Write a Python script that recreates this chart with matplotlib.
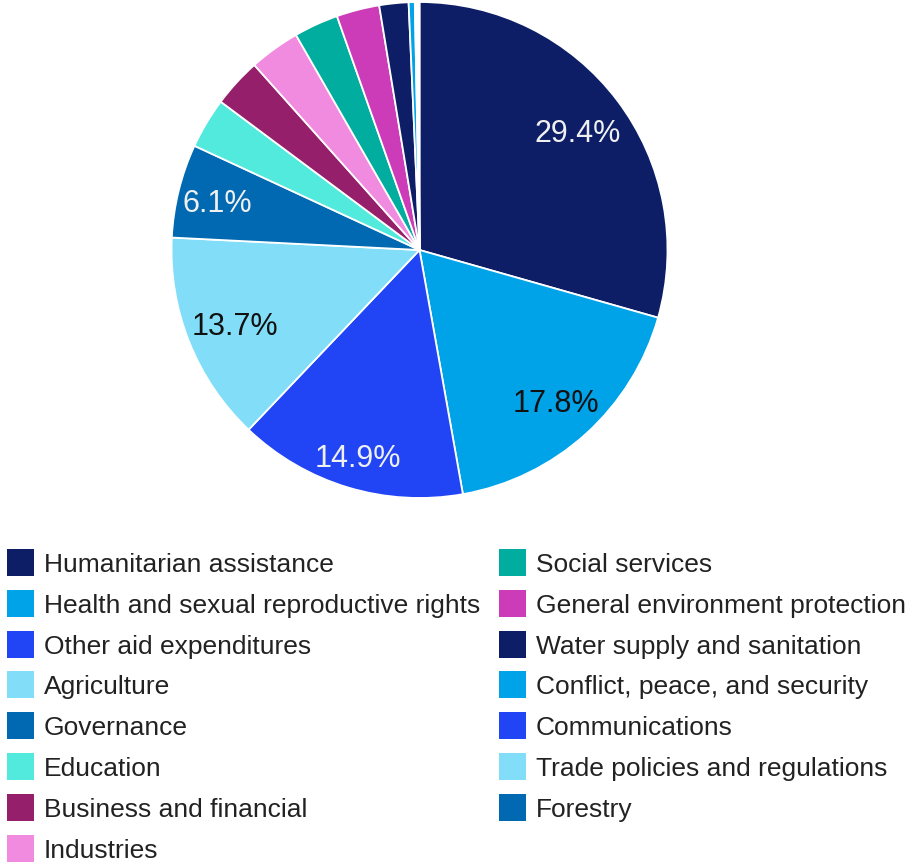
import matplotlib
matplotlib.use("Agg")
import numpy as np
import matplotlib.pyplot as plt
from matplotlib.patches import Rectangle

plt.rcParams['font.family'] = ['Liberation Sans', 'DejaVu Sans']

categories = [
    "Humanitarian assistance",
    "Health and sexual reproductive rights",
    "Other aid expenditures",
    "Agriculture",
    "Governance",
    "Education",
    "Business and financial",
    "Industries",
    "Social services",
    "General environment protection",
    "Water supply and sanitation",
    "Conflict, peace, and security",
    "Communications",
    "Trade policies and regulations",
    "Forestry",
]
shares = [29.4, 17.8, 14.9, 13.7, 6.1, 3.3, 3.2, 3.3, 2.9, 2.8, 1.9, 0.4, 0.1, 0.1, 0.1]
colors = [
    "#0d1e66", "#00a2e8", "#2145f5", "#82def8", "#0069b1",
    "#52eadd", "#951f6a", "#f08be0", "#00ad9e", "#cc3cb8",
    "#0d1e66", "#00a2e8", "#2145f5", "#82def8", "#0069b1",
]
# label text colour per wedge (light on dark fills)
label_colors = ["#f0f0f0", "#111111", "#f0f0f0", "#111111", "#f0f0f0"] + ["#111111"] * 10
# radial placement of each percentage label (fraction of radius)
label_radius = [0.80, 0.82, 0.865, 0.80, 0.84] + [0.82] * 10

W, H = 908, 863
fig = plt.figure(figsize=(W / 100, H / 100), dpi=100)

# pie axes: centre (419.5, 250) px, radius 248 px
cx, cy, r = 419.5, 250, 248
ax = fig.add_axes([(cx - r) / W, (H - cy - r) / H, 2 * r / W, 2 * r / H])
wedges, texts, autotexts = ax.pie(
    shares,
    colors=colors,
    startangle=90,
    counterclock=False,
    radius=1,
    autopct=lambda p: f"{p:.1f}%" if p >= 5 else "",
    pctdistance=0.82,
    wedgeprops=dict(edgecolor="white", linewidth=1.3),
    textprops=dict(fontsize=22),
)
for w, t, c, d in zip(wedges, autotexts, label_colors, label_radius):
    t.set_color(c)
    t.set_verticalalignment("center_baseline")
    mid = np.deg2rad((w.theta1 + w.theta2) / 2)
    t.set_position((d * np.cos(mid), d * np.sin(mid)))
ax.set_xlim(-1, 1)
ax.set_ylim(-1, 1)
ax.set_aspect("equal")
ax.axis("off")

# legend in two columns
n_first = 8
row0, row_step = 562.5, 40.8
col_x = [7, 499]
sw = 27
for i, (name, col) in enumerate(zip(categories, colors)):
    c = 0 if i < n_first else 1
    row = i if c == 0 else i - n_first
    yc = row0 + row * row_step
    x0 = col_x[c]
    fig.patches.append(Rectangle((x0 / W, (H - yc - sw / 2) / H), sw / W, sw / H,
                                 transform=fig.transFigure, facecolor=col,
                                 edgecolor="none"))
    fig.text((x0 + sw + 10) / W, (H - yc) / H, name, fontsize=19,
             color="#222222", va="center_baseline", ha="left")

fig.savefig("out.png", dpi=100)
